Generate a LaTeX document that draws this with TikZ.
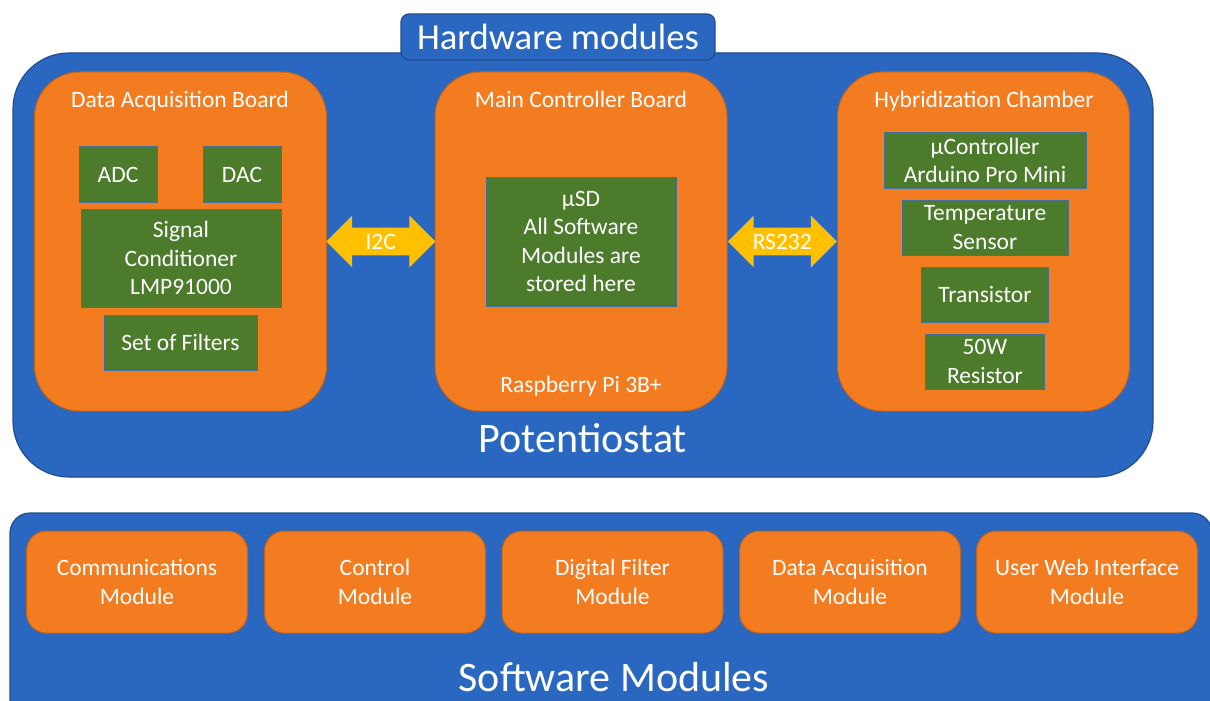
\documentclass[tikz,border=0pt]{standalone}
\usepackage{fontspec}
\setmainfont{Carlito}
\usetikzlibrary{shapes.arrows}
\definecolor{hwblue}{HTML}{2967C0}
\definecolor{hwblueline}{HTML}{1F4E8F}
\definecolor{boardorange}{HTML}{F47C20}
\definecolor{boardline}{HTML}{C0651E}
\definecolor{partgreen}{HTML}{4B7B2B}
\definecolor{partline}{HTML}{41719C}
\definecolor{linkyellow}{HTML}{FFC000}
\newcommand\hwsmall{\fontsize{11.75}{14.2}\selectfont}
\newcommand\hwtab{\fontsize{18.3}{22}\selectfont}
\newcommand\hwbig{\fontsize{21}{25}\selectfont}

\begin{document}
\begin{tikzpicture}[x=0.5pt, y=-0.5pt, node distance=33.5pt,
	panel/.style = {draw=hwblueline, fill=hwblue, line width=0.6pt, inner sep=0pt},
	board/.style = {draw=boardline, fill=boardorange, line width=0.5pt, rounded corners=22.5pt, inner sep=0pt, minimum width=146pt, minimum height=169.5pt},
	part/.style = {draw=partline, fill=partgreen, line width=0.5pt, text=white, font=\hwsmall, align=center, inner sep=0pt, minimum height=27.5pt},
	title/.style = {text=white, font=\hwsmall, inner sep=0pt, text height=7.6pt, text depth=0.4pt},
	module/.style = {draw=boardline, fill=boardorange, line width=0.5pt, rounded corners=10pt, text=white, font=\hwsmall, align=center, inner sep=0pt, minimum width=110.5pt, minimum height=51pt},
	link/.style = {double arrow, fill=linkyellow, text=white, font=\hwsmall, double arrow head extend=6pt, inner ysep=3pt, inner xsep=0pt, text height=7.5pt, text depth=0pt, minimum height=54.5pt}]
	\clip (0,0) rectangle (1210,701);
	\fill[white] (0,0) rectangle (1210,701);

	\node[panel, rounded corners=28pt, minimum width=570pt, minimum height=212pt] (hw) at (583,265) {};
	\node[panel, rounded corners=4pt, minimum width=157pt, minimum height=23pt, text=white, font=\hwtab] (tab) at (558,37) {Hardware modules};
	\node[text=white, font=\hwbig, inner sep=0pt] (pot) at (583,438) {Potentiostat};

	\node[board] (dab) at (180.5,241.5) {};
	\node[title] (dabt) at (180,100) {Data Acquisition Board};
	\node[part, minimum width=39pt] (adc) at (118,174.5) {ADC};
	\node[part, minimum width=39pt] (dac) at (242,174.5) {DAC};
	\node[part, minimum width=100pt, minimum height=49pt] (sig) at (181,258) {Signal\\Conditioner\\LMP91000};
	\node[part, minimum width=76.5pt] (flt) at (180.5,342.5) {Set of Filters};

	\node[board] (mcb) at (581,241.5) {};
	\node[title] (mcbt) at (581,100) {Main Controller Board};
	\node[part, minimum width=95pt, minimum height=64.5pt] (usd) at (581,241.5) {µSD\\All Software\\Modules are\\stored here};
	\node[title] (rpi) at (581,385) {Raspberry Pi 3B+};

	\node[board] (hyb) at (983.5,241.5) {};
	\node[title] (hybt) at (984,100) {Hybridization Chamber};
	\node[part, minimum width=101pt] (uc) at (985,160.5) {µController\\Arduino Pro Mini};
	\node[part, minimum width=83pt] [below of=uc] (temp) {Temperature\\Sensor};
	\node[part, minimum width=63.5pt] [below of=temp] (tr) {Transistor};
	\node[part, minimum width=59.5pt] [below of=tr] (res) {50W\\Resistor};

	\path (dab) -- (mcb) node[link, pos=0.5] (i2c) {I2C};
	\path (mcb) -- (hyb) node[link, pos=0.5] (rs) {RS232};

	\node[panel, rounded corners=10pt, minimum width=601pt, minimum height=103.5pt] (sw) at (611,616.5) {};
	\node[module] (com) at (137,582) {Communications\\Module};
	\node[module] (ctl) at (375,582) {Control\\Module};
	\node[module] (dfm) at (612.5,582) {Digital Filter\\Module};
	\node[module] (daq) at (850,582) {Data Acquisition\\Module};
	\node[module] (web) at (1087,582) {User Web Interface\\Module};
	\node[text=white, font=\hwbig, inner sep=0pt] (swt) at (614,677) {Software Modules};
\end{tikzpicture}
\end{document}
